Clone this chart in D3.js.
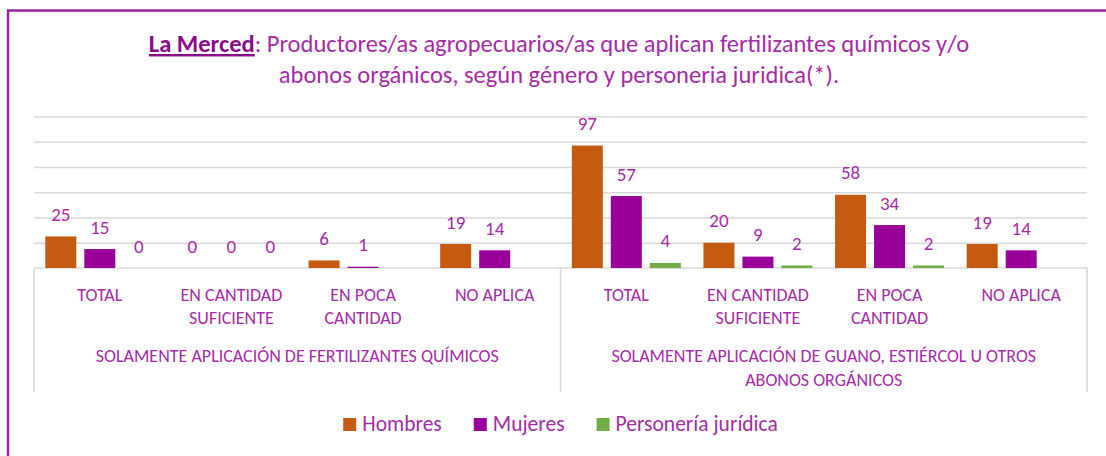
<!DOCTYPE html>
<html>
<head>
<meta charset="utf-8">
<script src="https://cdn.jsdelivr.net/npm/d3@7"></script>
<style>
  body { margin: 0; background: #fff; }
  svg text { font-family: Carlito, Calibri, Lato, sans-serif; fill: #a62ca6; }
  .grid line { stroke: #d9d9d9; stroke-width: 1.6; }
  .grid path { display: none; }
</style>
</head>
<body>
<div id="chart"></div>
<script>
// chart values
var groups = [
  ["SOLAMENTE APLICACIÓN DE FERTILIZANTES QUÍMICOS"],
  ["SOLAMENTE APLICACIÓN DE GUANO, ESTIÉRCOL U OTROS", "ABONOS ORGÁNICOS"]
];
var categories = [
  ["TOTAL"],
  ["EN CANTIDAD", "SUFICIENTE"],
  ["EN POCA", "CANTIDAD"],
  ["NO APLICA"]
];
var seriesNames = ["Hombres", "Mujeres", "Personería jurídica"];
var hombres = [25, 0, 6, 19, 97, 20, 58, 19];
var mujeres = [15, 0, 1, 14, 57, 9, 34, 14];
var personeria = [0, 0, null, null, 4, 2, 2, null];
var yTicks = [20, 40, 60, 80, 100, 120];

var colors = ["#c55a11", "#990099", "#70ad47"];

var svgWidth = 1106;
var svgHeight = 456;

var margin = { top: 116.5, right: 19, bottom: 188, left: 34 };
var chartWidth = svgWidth - margin.left - margin.right;
var chartHeight = svgHeight - margin.top - margin.bottom;

var svg = d3.select("#chart")
  .append("svg")
  .attr("width", svgWidth)
  .attr("height", svgHeight);

// outer purple frame
svg.append("path")
  .attr("d", "M8,460 V10.5 H1110")
  .attr("fill", "none")
  .attr("stroke", "#a020a0")
  .attr("stroke-width", 2.5);

// title
var title = svg.append("text")
  .attr("text-anchor", "middle")
  .attr("x", 559)
  .attr("y", 52)
  .style("font-size", "24.5px");
title.append("tspan")
  .style("font-weight", "bold")
  .style("text-decoration", "underline")
  .style("fill", "#8b0a8b")
  .text("La Merced");
title.append("tspan")
  .text(": Productores/as agropecuarios/as que aplican fertilizantes químicos y/o");
svg.append("text")
  .attr("text-anchor", "middle")
  .attr("x", 559)
  .attr("y", 83)
  .style("font-size", "24.5px")
  .text("abonos orgánicos, según género y personeria juridica(*).");

var chartGroup = svg.append("g")
  .attr("transform", `translate(${margin.left}, ${margin.top})`);

// build rows from the arrays
var keys = [];
groups.forEach(function(g, gi) {
  categories.forEach(function(c, ci) {
    keys.push(gi + "-" + ci);
  });
});
var rows = keys.map(function(k, i) {
  return { key: k, values: [hombres[i], mujeres[i], personeria[i]] };
});

var x0 = d3.scaleBand()
  .domain(keys)
  .range([0, chartWidth]);

var x1 = d3.scaleBand()
  .domain(d3.range(seriesNames.length))
  .range([0, x0.bandwidth()])
  .paddingInner(0.205)
  .paddingOuter(0.29);

var y = d3.scaleLinear()
  .domain([0, 120])
  .range([chartHeight, 0]);

// gridlines
chartGroup.append("g")
  .attr("class", "grid")
  .call(d3.axisLeft(y).tickValues(yTicks).tickSize(-chartWidth).tickFormat(""));

// category axis box
chartGroup.append("line")
  .attr("x1", 0).attr("x2", chartWidth)
  .attr("y1", chartHeight).attr("y2", chartHeight)
  .attr("stroke", "#d9d9d9").attr("stroke-width", 1.6);

var groupWidth = x0.step() * categories.length;
d3.range(groups.length + 1).forEach(function(i) {
  chartGroup.append("line")
    .attr("x1", i * groupWidth).attr("x2", i * groupWidth)
    .attr("y1", chartHeight).attr("y2", chartHeight + 124)
    .attr("stroke", "#d9d9d9").attr("stroke-width", 1.6);
});

// bars
var catGroups = chartGroup.selectAll(".cat")
  .data(rows)
  .enter()
  .append("g")
  .attr("class", "cat")
  .attr("transform", d => `translate(${x0(d.key)}, 0)`);

catGroups.selectAll("rect")
  .data(d => d.values.map((v, i) => ({ v: v, i: i })).filter(e => e.v !== null))
  .enter()
  .append("rect")
  .attr("x", e => x1(e.i))
  .attr("y", e => y(e.v))
  .attr("width", x1.bandwidth())
  .attr("height", e => chartHeight - y(e.v))
  .attr("fill", e => colors[e.i]);

// value labels
catGroups.selectAll(".val")
  .data(d => d.values.map((v, i) => ({ v: v, i: i })).filter(e => e.v !== null))
  .enter()
  .append("text")
  .attr("class", "val")
  .attr("x", e => x1(e.i) + x1.bandwidth() / 2)
  .attr("y", e => y(e.v) - 15.5)
  .attr("text-anchor", "middle")
  .style("font-size", "19px")
  .text(e => e.v);

// category labels
keys.forEach(function(k, i) {
  var lines = categories[i % categories.length];
  var t = chartGroup.append("text")
    .attr("text-anchor", "middle")
    .style("font-size", "18px");
  lines.forEach(function(line, li) {
    t.append("tspan")
      .attr("x", x0(k) + x0.bandwidth() / 2)
      .attr("y", chartHeight + 32.5 + li * 23)
      .text(line);
  });
});

// group labels
groups.forEach(function(lines, gi) {
  var t = chartGroup.append("text")
    .attr("text-anchor", "middle")
    .style("font-size", "18px");
  lines.forEach(function(line, li) {
    t.append("tspan")
      .attr("x", gi * groupWidth + groupWidth / 2)
      .attr("y", chartHeight + 93.5 + li * 24)
      .text(line);
  });
});

// legend, centred under the plot
var legend = chartGroup.append("g")
  .attr("transform", `translate(0, ${chartHeight + 163})`);
var items = legend.selectAll(".item")
  .data(seriesNames)
  .enter()
  .append("g")
  .attr("class", "item");
items.append("rect")
  .attr("y", -13)
  .attr("width", 13)
  .attr("height", 13)
  .attr("fill", (d, i) => colors[i]);
items.append("text")
  .attr("x", 19)
  .attr("y", 0)
  .style("font-size", "21.5px")
  .text(d => d);

var offs = [];
var pos = 0;
items.each(function() {
  offs.push(pos);
  pos += 19 + this.querySelector("text").getComputedTextLength() + 32;
});
var legendWidth = pos - 32;
var start = chartWidth / 2 - legendWidth / 2;
items.attr("transform", (d, i) => `translate(${start + offs[i]}, 0)`);
</script>
</body>
</html>
